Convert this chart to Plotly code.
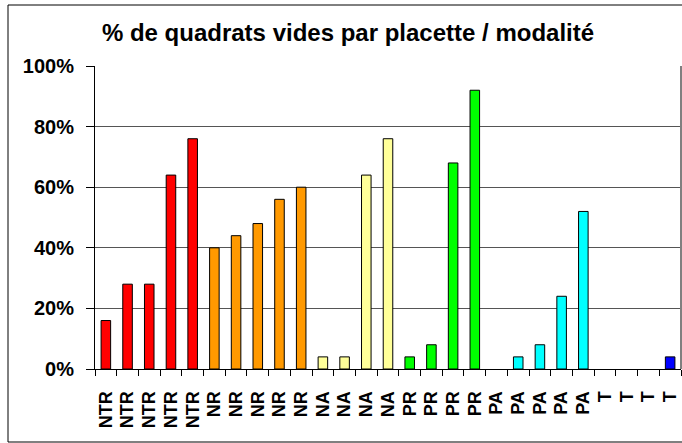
import plotly.graph_objects as go

labels = ["NTR"] * 5 + ["NR"] * 5 + ["NA"] * 4 + ["PR"] * 4 + ["PA"] * 5 + ["T"] * 4
values = [16, 28, 28, 64, 76,
          40, 44, 48, 56, 60,
          4, 4, 64, 76,
          4, 8, 68, 92,
          0, 4, 8, 24, 52,
          0, 0, 0, 4]
group_colors = {"NTR": "#FF0000", "NR": "#FF9900", "NA": "#FFFF99",
                "PR": "#00FF00", "PA": "#00FFFF", "T": "#0000FF"}
y_ticks = [0, 20, 40, 60, 80, 100]
title = "% de quadrats vides par placette / modalité"

W, H = 682, 443
L, R, T, B = 95, 1, 66, 74
pw, ph = W - L - R, H - T - B

xs = list(range(len(values)))
colors = [group_colors[g] for g in labels]
line_w = [1 if v > 0 else 0 for v in values]

fig = go.Figure(go.Bar(
    x=xs, y=[v / 100 for v in values],
    marker=dict(color=colors, line=dict(color="black", width=line_w)),
    width=0.44,
))

font_fam = "Liberation Sans, Arial, sans-serif"

fig.update_layout(
    width=W, height=H,
    margin=dict(l=L, r=R, t=T, b=B, autoexpand=False),
    paper_bgcolor="white", plot_bgcolor="white",
    showlegend=False,
    title=dict(text=title, x=348 / W, xanchor="center", y=1 - 33 / H, yanchor="middle",
               yref="container", xref="container", automargin=False,
               font=dict(family=font_fam, size=24, color="black", weight="bold")),
    font=dict(family=font_fam, color="black"),
)

fig.update_xaxes(
    range=[-0.5, len(values) - 0.5],
    tickvals=xs, ticktext=labels, tickangle=-90,
    ticks="outside", ticklen=0, tickcolor="black",
    minor=dict(tickvals=[i - 0.5 for i in range(len(values) + 1)], ticks="outside",
               ticklen=6, tickcolor="black", tickwidth=1, showgrid=False),
    showline=True, linecolor="black", linewidth=1,
    showgrid=False, zeroline=False, automargin=False,
    tickfont=dict(family=font_fam, size=18, color="black", weight="bold"),
    ticklabelstandoff=14,
)
fig.update_yaxes(
    range=[0, 1],
    tickvals=[v / 100 for v in y_ticks], ticktext=[f"{v}%" for v in y_ticks],
    ticks="outside", ticklen=8, tickcolor="black",
    showline=True, linecolor="black", linewidth=1,
    showgrid=True, gridcolor="#555555", gridwidth=1, zeroline=False, automargin=False,
    tickfont=dict(family=font_fam, size=20, color="black", weight="bold"),
    ticklabelstandoff=8,
)

fig.add_shape(type="rect", xref="paper", yref="paper",
              x0=(8 - L) / pw, x1=(700 - L) / pw,
              y0=(T + ph - 442) / ph, y1=(T + ph - 5) / ph,
              line=dict(color="black", width=1), fillcolor="rgba(0,0,0,0)", layer="above")
fig.add_shape(type="line", xref="paper", yref="paper", x0=1, x1=1, y0=0, y1=1,
              line=dict(color="#808080", width=2), layer="above")

fig.write_html("out.html", config={"displayModeBar": False},
               post_script="document.body.style.margin='0';document.body.style.padding='0';")
